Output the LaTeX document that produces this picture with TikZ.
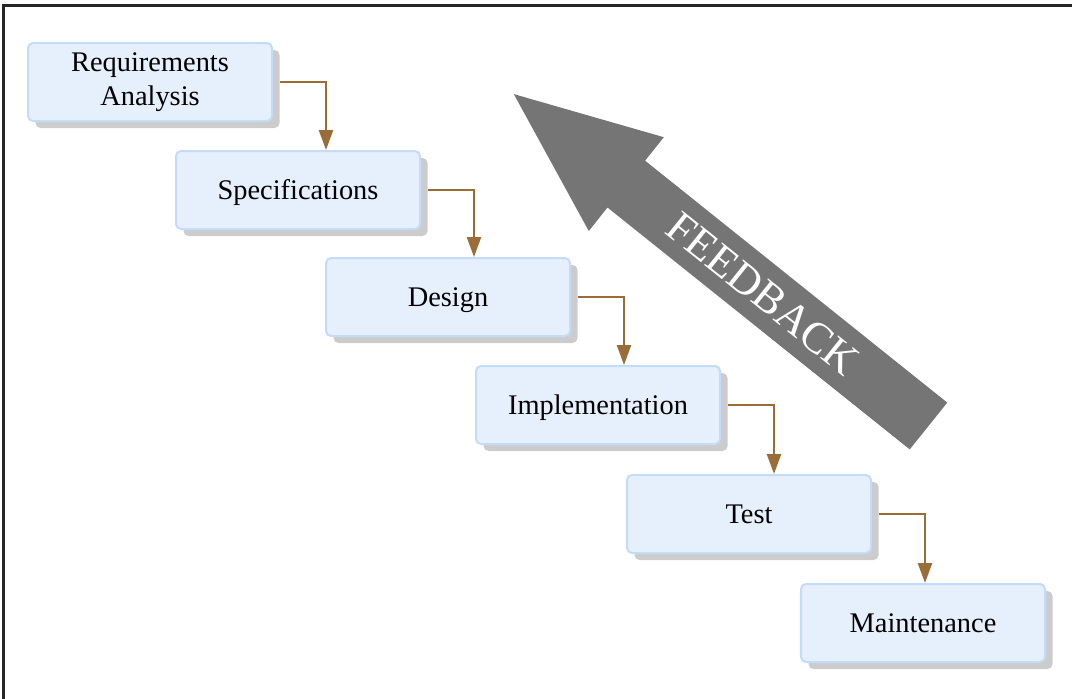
\documentclass[tikz,border=0pt]{standalone}
\usepackage{fontspec}
\setmainfont{Liberation Serif}
\usepackage{xcolor}
\usetikzlibrary{shapes,arrows.meta,positioning,calc,shadows}

\definecolor{stagefill}{HTML}{E6F0FD}
\definecolor{stageline}{HTML}{C4DBF9}
\definecolor{stageshadow}{HTML}{CCCCCC}
\definecolor{flowbrown}{HTML}{9A6D38}
\definecolor{feedgray}{HTML}{757575}

\begin{document}
\begin{tikzpicture}[x=1pt, y=-1pt,
    stage/.style={draw=stageline, line width=2pt, fill=stagefill, rounded corners=5pt, minimum width=244pt, minimum height=78pt, align=center, font=\fontsize{28.4}{34}\selectfont, text height=19pt, text depth=0pt, drop shadow={shadow xshift=7.5pt, shadow yshift=-7pt, fill=stageshadow, opacity=1}},
    flow/.style={-{Triangle[length=20pt, width=14pt]}, line width=2.6pt, draw=flowbrown}]
    \useasboundingbox (0,0) rectangle (1072,699);
    \draw [line width=2.2pt, draw=black!85, line join=miter] (1072,5.5) -- (3.5,5.5) -- (3.5,699);

    % feedback arrow
    \fill [feedgray] (909.75,449.4) -- (947.25,402.6) -- (645.1,160.7) -- (663.8,137.2) -- (513.8,94.1) -- (588.8,231) -- (607.5,207.5) -- cycle;
    \node (feedback) [rotate=-38.7, text=white, font=\fontsize{44}{44}\selectfont] at (762.9,293.5) {FEEDBACK};

    \node (req) [stage, text height=, text depth=] at (150,82) {Requirements\\Analysis};
    \node (spec) [stage, right=-98pt of req, yshift=-108pt] {Specifications};
    \node (design) [stage, right=-96pt of spec, yshift=-107pt] {Design};
    \node (impl) [stage, right=-96pt of design, yshift=-108pt] {Implementation};
    \node (test) [stage, right=-95pt of impl, yshift=-109pt] {Test};
    \node (maint) [stage, right=-72pt of test, yshift=-109pt] {Maintenance};

    \coordinate [right=53pt of req.east] (k1);
    \coordinate [right=53pt of spec.east] (k2);
    \coordinate [right=53pt of design.east] (k3);
    \coordinate [right=53pt of impl.east] (k4);
    \coordinate [right=53pt of test.east] (k5);

    \draw [flow] ([xshift=7pt]req.east) -- (k1) -- (k1 |- spec.north);
    \draw [flow] ([xshift=7pt]spec.east) -- (k2) -- (k2 |- design.north);
    \draw [flow] ([xshift=7pt]design.east) -- (k3) -- (k3 |- impl.north);
    \draw [flow] ([xshift=7pt]impl.east) -- (k4) -- (k4 |- test.north);
    \draw [flow] ([xshift=7pt]test.east) -- (k5) -- (k5 |- maint.north);
\end{tikzpicture}
\end{document}
